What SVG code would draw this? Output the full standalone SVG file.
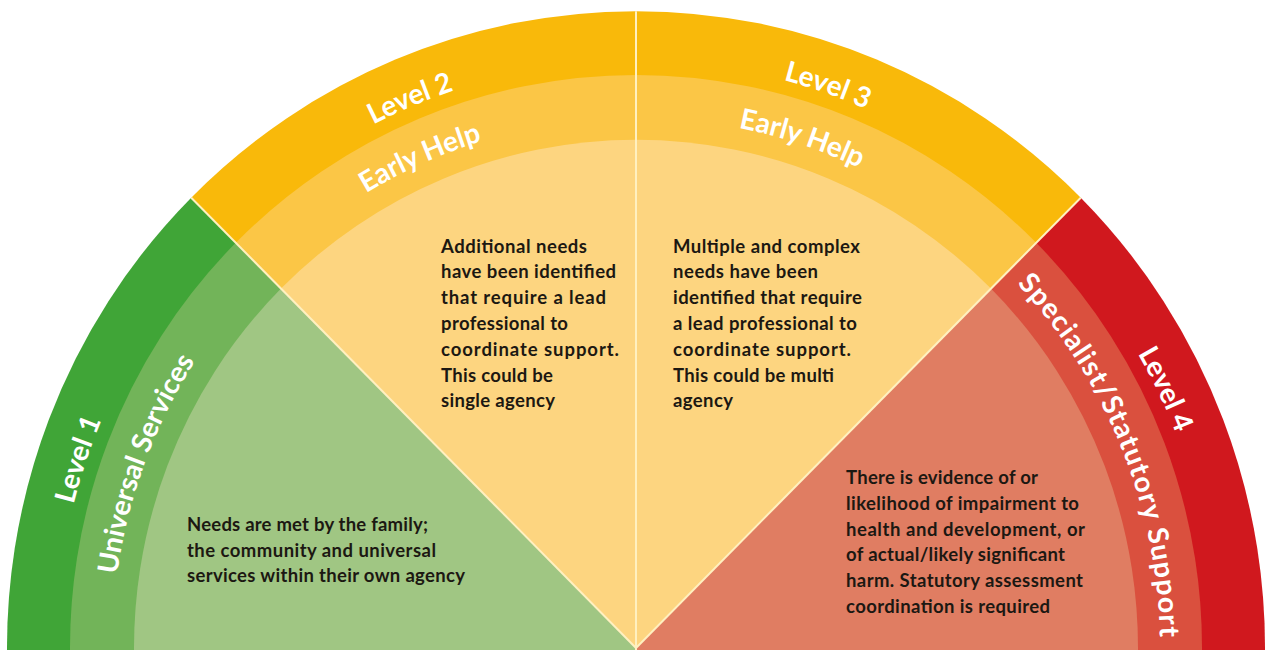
<svg xmlns="http://www.w3.org/2000/svg" width="1271" height="650" viewBox="0 0 1271 650">
<style>
.g0{fill:#40a537}.g1{fill:#72b459}.g2{fill:#a0c683}
.y0{fill:#f9b90a}.y1{fill:#fbc646}.y2{fill:#fdd580}
.r0{fill:#d0181e}.r1{fill:#da503e}.r2{fill:#e07d62}
.div{stroke:#fff0c0;stroke-width:2;fill:none}
.lbl{font-family:Lato,"Open Sans",sans-serif;font-weight:700;font-size:28px;fill:#ffffff;text-anchor:middle}
.body{font-family:Lato,"Liberation Sans",sans-serif;font-weight:700;font-size:18.5px;fill:#1c1812}
</style>
<defs>
<path id="arcO" d="M -580 0 A 580 580 0 0 1 0 -580 A 580 580 0 0 1 545.0 198.4"/>
<path id="arcM" d="M -524 0 A 524 524 0 0 1 0 -524 A 524 524 0 0 1 492.4 179.2"/>
</defs>
<rect width="1271" height="650" fill="#ffffff"/>

<g id="level1">
 <g transform="translate(636,648) scale(1,1.0125)">
  <path class="g0" d="M0 0 L0 30 L-628.14 32.92 A629 629 0 0 1 -444.77 -444.77 Z"/>
  <path class="g1" d="M0 0 L0 30 L-565.22 29.62 A566 566 0 0 1 -400.22 -400.22 Z"/>
  <path class="g2" d="M0 0 L0 30 L-501.31 26.27 A502 502 0 0 1 -354.97 -354.97 Z"/>
  <text class="lbl"><textPath href="#arcO" startOffset="187">Level 1</textPath></text>
  <text class="lbl"><textPath href="#arcM" startOffset="186">Universal Services</textPath></text>
 </g>
 <text class="body" x="187" y="530.7" textLength="241">Needs are met by the family;</text>
 <text class="body" x="187" y="556.5" textLength="249">the community and universal</text>
 <text class="body" x="187" y="582.3" textLength="278">services within their own agency</text>
</g>

<g id="level2">
 <g transform="translate(636,648) scale(1,1.0125)">
  <path class="y0" d="M0 0 L-444.77 -444.77 A629 629 0 0 1 0 -629 Z"/>
  <path class="y1" d="M0 0 L-400.22 -400.22 A566 566 0 0 1 0 -566 Z"/>
  <path class="y2" d="M0 0 L-354.97 -354.97 A502 502 0 0 1 0 -502 Z"/>
  <text class="lbl"><textPath href="#arcO" startOffset="682">Level 2</textPath></text>
  <text class="lbl"><textPath href="#arcM" startOffset="603">Early Help</textPath></text>
 </g>
 <text class="body" x="441" y="252.5" textLength="146">Additional needs</text>
 <text class="body" x="441" y="278.3" textLength="175">have been identified</text>
 <text class="body" x="441" y="304.1" textLength="165">that require a lead</text>
 <text class="body" x="441" y="329.9" textLength="127">professional to</text>
 <text class="body" x="441" y="355.7" textLength="178">coordinate support.</text>
 <text class="body" x="441" y="381.5" textLength="112">This could be</text>
 <text class="body" x="441" y="407.3" textLength="114">single agency</text>
</g>

<g id="level3">
 <g transform="translate(636,648) scale(1,1.0125)">
  <path class="y0" d="M0 0 L0 -629 A629 629 0 0 1 444.77 -444.77 Z"/>
  <path class="y1" d="M0 0 L0 -566 A566 566 0 0 1 400.22 -400.22 Z"/>
  <path class="y2" d="M0 0 L0 -502 A502 502 0 0 1 354.97 -354.97 Z"/>
  <text class="lbl"><textPath href="#arcO" startOffset="1104">Level 3</textPath></text>
  <text class="lbl"><textPath href="#arcM" startOffset="990">Early Help</textPath></text>
 </g>
 <text class="body" x="673" y="252.5" textLength="187">Multiple and complex</text>
 <text class="body" x="673" y="278.3" textLength="145">needs have been</text>
 <text class="body" x="673" y="304.1" textLength="189">identified that require</text>
 <text class="body" x="673" y="329.9" textLength="184">a lead professional to</text>
 <text class="body" x="673" y="355.7" textLength="178">coordinate support.</text>
 <text class="body" x="673" y="381.5" textLength="161">This could be multi</text>
 <text class="body" x="673" y="407.3" textLength="60">agency</text>
</g>

<g id="level4">
 <g transform="translate(636,648) scale(1,1.0125)">
  <path class="r0" d="M0 0 L444.77 -444.77 A629 629 0 0 1 628.14 32.92 L0 30 Z"/>
  <path class="r1" d="M0 0 L400.22 -400.22 A566 566 0 0 1 565.22 29.62 L0 30 Z"/>
  <path class="r2" d="M0 0 L354.97 -354.97 A502 502 0 0 1 501.31 26.27 L0 30 Z"/>
  <text class="lbl"><textPath href="#arcO" startOffset="1561">Level 4</textPath></text>
  <text class="lbl" style="letter-spacing:1.2px"><textPath href="#arcM" startOffset="1443">Specialist/Statutory Support</textPath></text>
 </g>
 <text class="body" x="846" y="484" textLength="192">There is evidence of or</text>
 <text class="body" x="846" y="509.7" textLength="233">likelihood of impairment to</text>
 <text class="body" x="846" y="535.5" textLength="239">health and development, or</text>
 <text class="body" x="846" y="561.2" textLength="219">of actual/likely significant</text>
 <text class="body" x="846" y="587" textLength="237">harm. Statutory assessment</text>
 <text class="body" x="846" y="612.7" textLength="204">coordination is required</text>
</g>

<g id="connectors" transform="translate(636,648) scale(1,1.0125)">
 <path class="div" d="M0 0 L-444.77 -444.77"/>
 <path class="div" d="M0 2 L0 -629"/>
 <path class="div" d="M0 0 L444.77 -444.77"/>
</g>
</svg>
